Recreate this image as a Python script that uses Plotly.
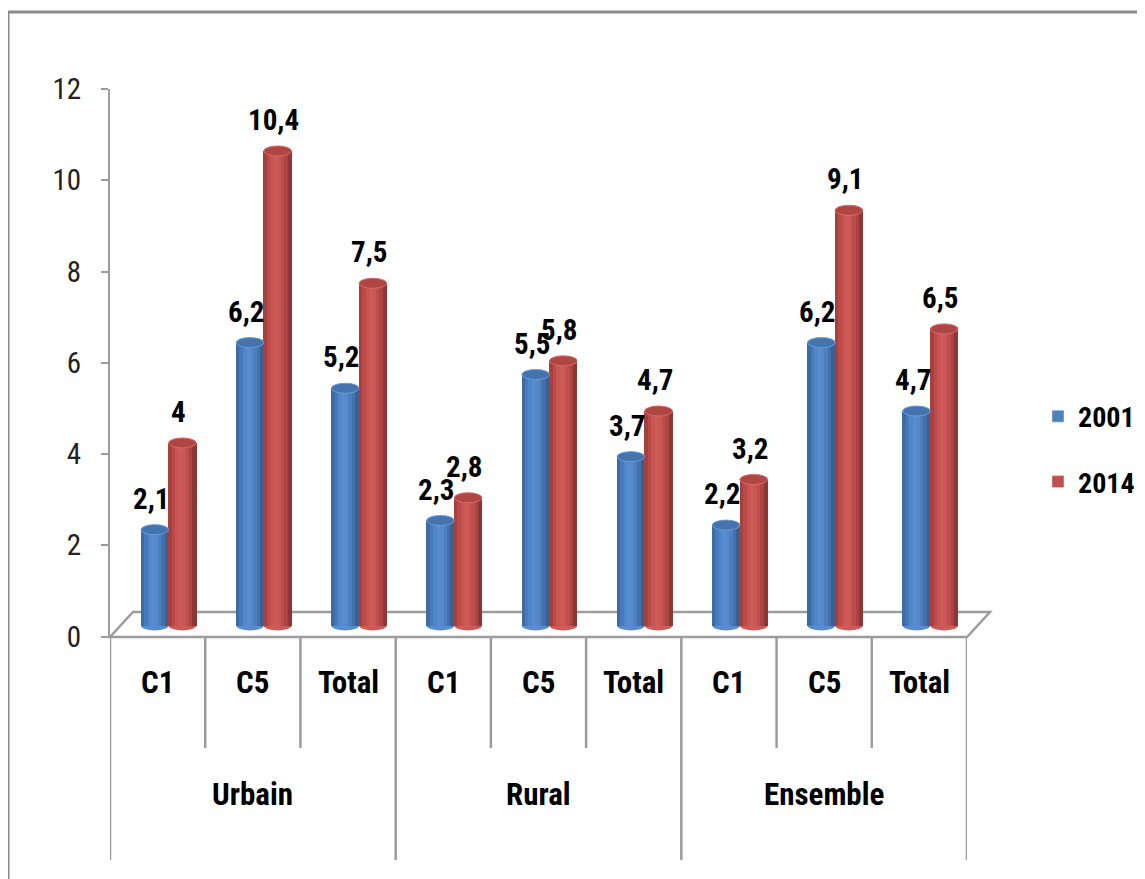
import plotly.graph_objects as go

W, H = 1145, 879

groups = ["Urbain", "Rural", "Ensemble"]
subcats = ["C1", "C5", "Total"]
years = ["2001", "2014"]
vals_2001 = [2.1, 6.2, 5.2, 2.3, 5.5, 3.7, 2.2, 6.2, 4.7]
vals_2014 = [4.0, 10.4, 7.5, 2.8, 5.8, 4.7, 3.2, 9.1, 6.5]
yticks = [0, 2, 4, 6, 8, 10, 12]

FONT = "Liberation Sans Narrow, Roboto Condensed, DejaVu Sans Condensed, Roboto, sans-serif"
GRID = "#9c9c9c"

# cylinder shading, left edge -> right edge
shades = {
    "2001": ["#3d6ba6", "#4879ba", "#5186c8", "#578dd0", "#5589cb", "#4d7ebe", "#4470ab", "#395f93"],
    "2014": ["#a6403e", "#bb4b49", "#c95553", "#cf5b59", "#ca5755", "#bd4e4b", "#ab4442", "#8e3634"],
}
base_col = {"2001": "#4f81bd", "2014": "#c0504d"}
cap_col = {"2001": "#4573ad", "2014": "#b04643"}
rim_col = {"2001": "#6a9bd8", "2014": "#d66a68"}

cats = [f"{g}|{s}" for g in groups for s in subcats]
idx = list(range(len(cats)))

bar_w = 0.29
n_sl = 8
sl_w = bar_w / n_sl

# page has an 8px body margin, positions below are in reference pixels
OFF = 8


def px(x):
    return (x - OFF) / W


def py(y):
    return 1 - (y - OFF) / H


fig = go.Figure()
shapes = []
annotations = []

for si, (yr, vals) in enumerate(zip(years, [vals_2001, vals_2014])):
    left = -bar_w if si == 0 else 0.0
    for k, col in enumerate(shades[yr]):
        off = left + (k + 0.5) * sl_w
        fig.add_trace(go.Bar(
            x=[i + off for i in idx], y=vals, width=sl_w * 1.2,
            marker=dict(color=col, line=dict(width=0)),
            xaxis="x2", yaxis="y2", showlegend=False, hoverinfo="skip",
        ))
    # legend entry
    fig.add_trace(go.Bar(
        x=[None], y=[None], name=yr, marker=dict(color=base_col[yr]),
        xaxis="x2", yaxis="y2", legendgroup=yr,
    ))
    eh = 0.11
    for i, v in zip(idx, vals):
        x0, x1 = i + left, i + left + bar_w
        # top cap
        shapes.append(dict(type="circle", xref="x2", yref="y2", x0=x0, x1=x1,
                           y0=v - eh, y1=v + eh, fillcolor=cap_col[yr],
                           line=dict(color=rim_col[yr], width=1), layer="above"))
        # rounded bottom
        shapes.append(dict(type="circle", xref="x2", yref="y2", x0=x0, x1=x1,
                           y0=-eh, y1=eh, fillcolor=shades[yr][3],
                           line=dict(width=0), layer="below"))
        annotations.append(dict(
            x=(x0 + x1) / 2, y=v, xref="x2", yref="y2", text=f"{v:g}".replace(".", ","),
            showarrow=False, yanchor="bottom", xshift=-4, yshift=12,
            font=dict(family=FONT, size=29, color="#000000", weight="bold"),
        ))

# 3D floor
shapes.append(dict(
    type="path", xref="paper", yref="paper", layer="below",
    path=f"M{px(110)},{py(637)} L{px(967)},{py(637)} L{px(990)},{py(612)} L{px(133)},{py(612)} Z",
    fillcolor="white", line=dict(color=GRID, width=2.5),
))

# category table lines
for b in range(len(cats) + 1):
    xb = b - 0.5
    bottom = py(860) if b % len(subcats) == 0 else py(748)
    shapes.append(dict(type="line", xref="x", yref="paper", x0=xb, x1=xb,
                       y0=py(637), y1=bottom, line=dict(color=GRID, width=2.5)))

for i, c in zip(idx, cats):
    annotations.append(dict(x=i, y=py(703), xref="x", yref="paper", text=c.split("|")[1],
                            showarrow=False, font=dict(family=FONT, size=31, color="#000", weight="bold")))
for gi, g in enumerate(groups):
    annotations.append(dict(x=gi * len(subcats) + 1, y=py(815), xref="x", yref="paper", text=g,
                            showarrow=False, font=dict(family=FONT, size=31, color="#000", weight="bold")))

# outer frame
shapes.append(dict(type="rect", xref="paper", yref="paper", x0=px(8), x1=1.1, y0=-0.1, y1=py(12),
                   line=dict(color="#8a8a8a", width=3), layer="below"))

unit = (636.5 - 89) / 12
fig.update_layout(
    width=W, height=H,
    margin=dict(l=0, r=0, t=0, b=0, autoexpand=False),
    paper_bgcolor="white", plot_bgcolor="rgba(0,0,0,0)",
    barmode="overlay", bargap=0,
    font=dict(family=FONT, size=28, color="#000"),
    xaxis=dict(domain=[px(110), px(967)], range=[-0.5, 8.5], showticklabels=False,
               showgrid=False, zeroline=False, showline=False, anchor="y", automargin=False),
    yaxis=dict(domain=[py(636.5), py(89)], range=[0, 12], tickvals=yticks,
               ticks="outside", ticklen=7, tickwidth=2, tickcolor=GRID,
               showline=True, linecolor=GRID, linewidth=2, showgrid=False, zeroline=False,
               ticklabelstandoff=14, tickfont=dict(family=FONT, size=29, color="#222"),
               anchor="x", automargin=False),
    xaxis2=dict(domain=[px(121), px(978)], range=[-0.5, 8.5], visible=False, anchor="y2",
                automargin=False),
    yaxis2=dict(domain=[py(625.5 + unit), py(625.5 - 12 * unit)], range=[-1, 12], visible=False,
                anchor="x2", automargin=False),
    shapes=shapes,
    annotations=annotations,
    showlegend=True,
    legend=dict(x=px(1038), y=py(449), xanchor="left", yanchor="middle",
                traceorder="grouped", tracegroupgap=26,
                font=dict(family=FONT, size=28, color="#000", weight="bold"),
                bgcolor="rgba(0,0,0,0)"),
)

fig.write_html("out.html")
